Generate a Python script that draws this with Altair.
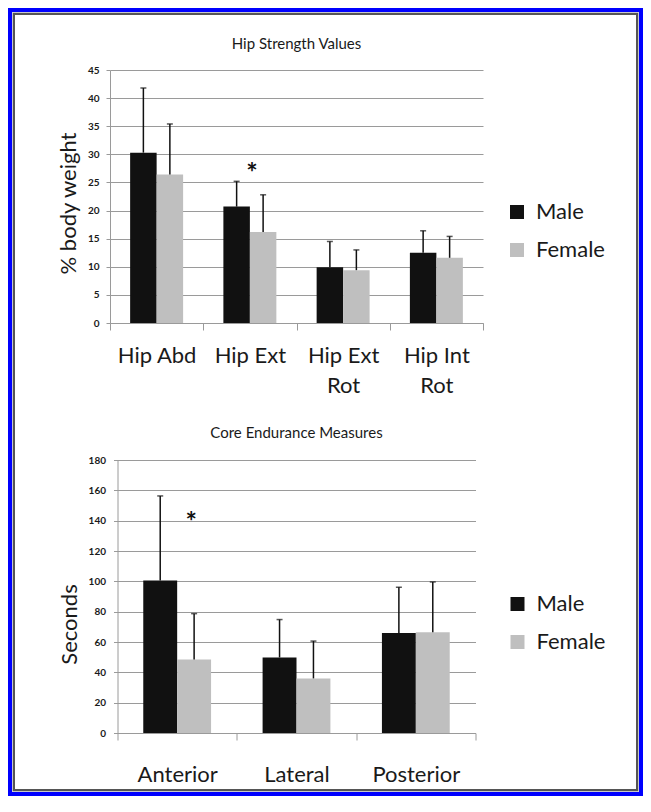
import altair as alt
import pandas as pd

# ---------------- data ----------------
sexes = ["Male", "Female"]
bar_colors = ["#111111", "#bfbfbf"]

hip_categories = ["Hip Abd", "Hip Ext", "Hip Ext Rot", "Hip Int Rot"]
hip_male = [30.3, 20.7, 9.9, 12.5]
hip_female = [26.4, 16.2, 9.4, 11.6]
hip_male_upper = [41.8, 25.2, 14.5, 16.4]
hip_female_upper = [35.4, 22.8, 13.0, 15.4]
hip_ticks = [0, 5, 10, 15, 20, 25, 30, 35, 40, 45]
hip_star_cat = ["Hip Ext"]
hip_star_y = [27.8]

core_categories = ["Anterior", "Lateral", "Posterior"]
core_male = [100.5, 49.8, 66.0]
core_female = [48.5, 36.0, 66.4]
core_male_upper = [156.3, 74.8, 96.1]
core_female_upper = [78.7, 60.6, 99.6]
core_ticks = [0, 20, 40, 60, 80, 100, 120, 140, 160, 180]
core_star_cat = ["Anterior"]
core_star_y = [142.9]

FONT = "Lato"
TXT = "#1a1a1a"
GRID = "#9a9a9a"

# frame geometry (pixels, relative to top plot origin)
FRAME_W, FRAME_H = 635, 788
OX, OY = 102, 62


def long_table(cats, male, female, mu, fu):
    rows = []
    for c, m, f, a, b in zip(cats, male, female, mu, fu):
        rows.append({"cat": c, "sex": "Male", "val": m, "upper": a})
        rows.append({"cat": c, "sex": "Female", "val": f, "upper": b})
    return pd.DataFrame(rows)


def frame_layers():
    one = alt.Data(values=[{"k": 1}])
    out = []
    for inset, sw, col in [(2, 4, "#0000fe"), (4.5, 1, "#c8c8c8"), (6, 2, "#555555")]:
        out.append(
            alt.Chart(one).mark_rect(fill="white", fillOpacity=0, stroke=col, strokeWidth=sw).encode(
                x=alt.value(-OX + inset), x2=alt.value(-OX + FRAME_W - inset),
                y=alt.value(-OY + inset), y2=alt.value(-OY + FRAME_H - inset),
            )
        )
    return out


def panel(cats, male, female, mu, fu, ticks, title, ytitle, width, height,
          star_cat, star_y, star_dx, label_pad, ytitle_x, ytitle_y, title_y,
          legend_x, legend_y, ylab_pad, with_frame=False):
    df = long_table(cats, male, female, mu, fu)
    xscale = alt.Scale(domain=cats, paddingInner=0, paddingOuter=0)
    xoff = alt.XOffset("sex:N", scale=alt.Scale(domain=sexes, paddingInner=0, paddingOuter=0.76))
    yscale = alt.Scale(domain=[ticks[0], ticks[-1]], nice=False)

    xaxis = alt.Axis(
        title=None, labelAngle=0, labelFont=FONT, labelFontSize=22, labelColor=TXT,
        labelPadding=label_pad, tickSize=7, tickColor=GRID, domainColor=GRID,
        tickBand="extent", labelOverlap=False, grid=False, labelLineHeight=30,
        labelExpr="indexof(datum.label, ' Rot') > 0 ? [replace(datum.label, ' Rot', ''), 'Rot'] : datum.label",
    )
    yaxis = alt.Axis(
        values=ticks, title=ytitle, titleFont=FONT, titleFontSize=22, titleFontWeight="normal",
        titleColor=TXT, titleAngle=270, titleX=ytitle_x, titleY=ytitle_y, titleAlign="center",
        titleBaseline="middle", labelFont=FONT, labelFontSize=10, labelFontWeight="bold",
        labelColor=TXT, labelPadding=ylab_pad, tickSize=4, tickColor=GRID, domainColor=GRID,
        gridColor=GRID, grid=True,
    )
    X = alt.X("cat:N", sort=cats, scale=xscale, axis=xaxis)

    bars = alt.Chart(df).mark_bar().encode(
        x=X,
        xOffset=xoff,
        y=alt.Y("val:Q", scale=yscale, axis=yaxis),
        color=alt.Color(
            "sex:N",
            scale=alt.Scale(domain=sexes, range=bar_colors),
            legend=alt.Legend(
                title=None, orient="none", legendX=legend_x, legendY=legend_y,
                symbolType="square", symbolSize=196, symbolStrokeWidth=0,
                labelFont=FONT, labelFontSize=22, labelColor=TXT, labelOffset=8,
                rowPadding=16, padding=0,
            ),
        ),
    )
    err = alt.Chart(df).mark_rule(color="#111111", strokeWidth=1.5).encode(
        x=X,
        xOffset=xoff,
        y=alt.Y("val:Q", scale=yscale, axis=yaxis),
        y2="upper:Q",
    )
    caps = alt.Chart(df).mark_tick(color="#111111", thickness=1.5, size=6).encode(
        x=X,
        xOffset=xoff,
        y=alt.Y("upper:Q", scale=yscale, axis=yaxis),
    )
    star_df = pd.DataFrame({"cat": star_cat, "y": star_y, "t": ["*"] * len(star_cat)})
    star = alt.Chart(star_df).mark_text(
        font=FONT, fontSize=27, fontWeight="bold", color="#111111", dx=star_dx, dy=7,
        baseline="middle", align="center",
    ).encode(
        x=X,
        y=alt.Y("y:Q", scale=yscale, axis=yaxis),
        text="t:N",
    )
    ttl = alt.Chart(alt.Data(values=[{"t": title}])).mark_text(
        font=FONT, fontSize=15, color=TXT, baseline="middle", align="center",
    ).encode(x=alt.value(width / 2), y=alt.value(title_y), text="t:N")

    layers = (frame_layers() if with_frame else []) + [bars, err, caps, star, ttl]
    return alt.layer(*layers).properties(width=width, height=height)


top = panel(hip_categories, hip_male, hip_female, hip_male_upper, hip_female_upper,
            hip_ticks, "Hip Strength Values", "% body weight", 373, 253,
            hip_star_cat, hip_star_y, 2, 15, -42, 133, -26, 396, 131, 7, with_frame=True)

bottom = panel(core_categories, core_male, core_female, core_male_upper, core_female_upper,
               core_ticks, "Core Endurance Measures", "Seconds", 358, 273,
               core_star_cat, core_star_y, 14, 24, -48, 164, -27, 389, 133, 8)

chart = alt.vconcat(top, bottom, spacing=137, bounds="flush", center=True).resolve_scale(
    color="independent", x="independent", y="independent", xOffset="independent"
).properties(padding=0, background="white").configure_view(strokeWidth=0)

chart.save("out.html", embed_options={"renderer": "svg", "actions": False})
